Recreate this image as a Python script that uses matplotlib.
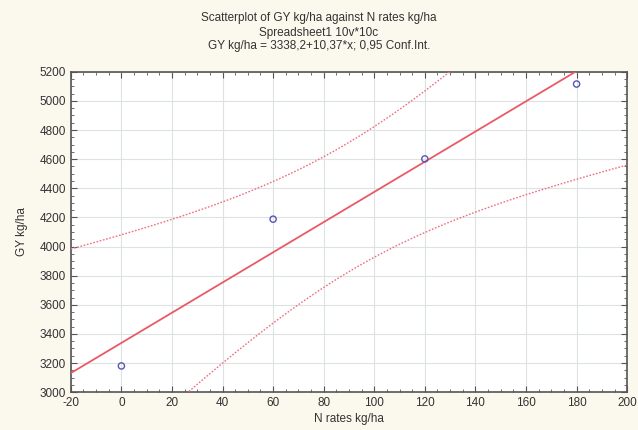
import numpy as np
import matplotlib
matplotlib.use("Agg")
import matplotlib.pyplot as plt
from matplotlib.ticker import MultipleLocator

plt.rcParams['font.family'] = ['Liberation Sans', 'DejaVu Sans']

# Data
n_rates = [0, 60, 120, 180]
gy = [3180, 4188, 4602, 5116]
x_ticks = [-20, 0, 20, 40, 60, 80, 100, 120, 140, 160, 180, 200]
y_ticks = [3000, 3200, 3400, 3600, 3800, 4000, 4200, 4400, 4600, 4800, 5000, 5200]

x = np.array(n_rates, dtype=float)
y = np.array(gy, dtype=float)

# Linear fit and 95% confidence band of the mean
slope, intercept = np.polyfit(x, y, 1)
n = len(x)
resid = y - (intercept + slope * x)
s = np.sqrt(np.sum(resid ** 2) / (n - 2))
sxx = np.sum((x - x.mean()) ** 2)
t_crit = 4.303  # t(0.975, df=2)

xs = np.linspace(-20, 200, 300)
fit = intercept + slope * xs
half = t_crit * s * np.sqrt(1.0 / n + (xs - x.mean()) ** 2 / sxx)

bg = "#fbf8ee"
fig = plt.figure(figsize=(6.38, 4.30), dpi=100, facecolor=bg)
ax = fig.add_axes([0.111, 0.088, 0.872, 0.745])
ax.set_facecolor("white")

ax.plot(xs, fit, color="#e95a66", lw=1.3, zorder=3)
ax.plot(xs, fit + half, color="#ee7080", lw=1.0, ls=(0, (1.2, 1.2)), zorder=3)
ax.plot(xs, fit - half, color="#ee7080", lw=1.0, ls=(0, (1.2, 1.2)), zorder=3)
ax.scatter(x, y, s=20, facecolors="none", edgecolors="#5558b0", linewidths=1.0, zorder=4)

ax.set_xlim(-20, 200)
ax.set_ylim(3000, 5200)
ax.set_xticks(x_ticks)
ax.set_yticks(y_ticks)
ax.set_xticklabels([str(v) for v in x_ticks])
ax.set_yticklabels([str(v) for v in y_ticks])
ax.xaxis.set_minor_locator(MultipleLocator(5))
ax.yaxis.set_minor_locator(MultipleLocator(50))
ax.tick_params(which="both", direction="in", top=True, right=True, colors="#555555",
               labelcolor="#333333", labelsize=8.5)
ax.tick_params(which="major", length=4)
ax.tick_params(which="minor", length=2)
ax.grid(True, which="major", color="#dde2e2", lw=0.8)
for sp in ax.spines.values():
    sp.set_color("#555555")
    sp.set_linewidth(1.2)

ax.set_xlabel("N rates kg/ha", fontsize=8.5, color="#333333", labelpad=3)
ax.set_ylabel("GY kg/ha", fontsize=8.5, color="#333333", labelpad=8)

fig.text(0.5, 0.957, "Scatterplot of GY kg/ha against N rates kg/ha", ha="center", va="center",
         fontsize=8.5, color="#333333")
fig.text(0.5, 0.924, "Spreadsheet1 10v*10c", ha="center", va="center", fontsize=8.5, color="#333333")
fig.text(0.5, 0.893, "GY kg/ha = 3338,2+10,37*x; 0,95 Conf.Int.", ha="center", va="center",
         fontsize=8.5, color="#333333")

fig.savefig("out.png", dpi=100, facecolor=bg)
